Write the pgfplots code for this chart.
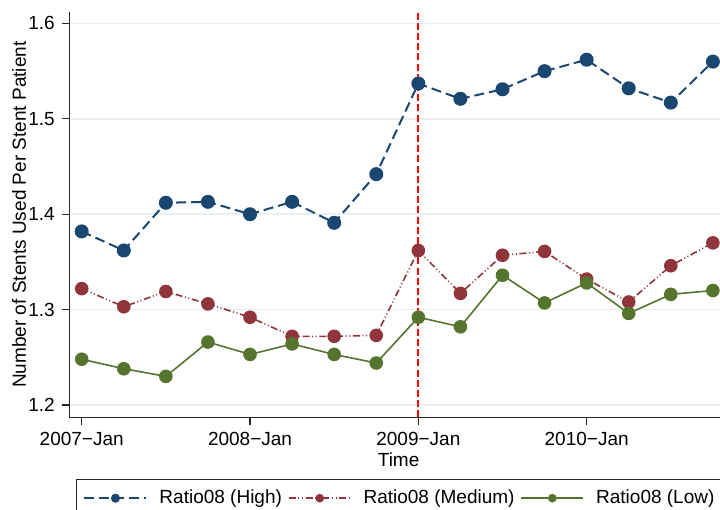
\documentclass[border=0pt]{standalone}
\usepackage{fontspec}
\setmainfont{Liberation Sans}
\usepackage{pgfplots}
\pgfplotsset{compat=1.18}
\definecolor{snavy}{RGB}{26,71,111}
\definecolor{smaroon}{RGB}{144,53,59}
\definecolor{sgreen}{RGB}{85,117,47}
\definecolor{sgrid}{RGB}{232,240,241}
\newcommand{\fs}{\fontsize{9.5pt}{11pt}\selectfont}
\begin{document}
\begin{tikzpicture}
\useasboundingbox (-34.65pt,-46.35pt) rectangle (325.35pt,208.65pt);
\clip (-34.65pt,-46.35pt) rectangle (325.35pt,208.65pt);
\begin{axis}[
  scale only axis,
  width=327.35pt, height=202.65pt,
  xmin=-0.295, xmax=15.264,
  ymin=1.1871, ymax=1.612,
  axis x line*=bottom, axis y line*=left,
  axis line style={black!85, line width=0.6pt, -},
  xtick={0,4,8,12},
  xticklabels={2007−Jan,2008−Jan,2009−Jan,2010−Jan},
  ytick={1.2,1.3,1.4,1.5,1.6},
  yticklabels={1.2,1.3,1.4,1.5,1.6},
  tick align=outside,
  major tick length=3.75pt,
  tick style={black!85, line width=0.6pt},
  ymajorgrids,
  grid style={sgrid, line width=0.75pt},
  tick label style={font=\fs},
  label style={font=\fs},
  xlabel={Time},
  ylabel={Number of Stents Used Per Stent Patient},
  xlabel style={at={(axis description cs:0.503,-0.0856)}, anchor=north, inner sep=0pt},
  ylabel style={at={(axis description cs:-0.0765,0.5)}, anchor=center, inner sep=0pt},
  clip=false,
  legend columns=3,
  legend style={
    at={(0.0102,-0.153)}, anchor=north west,
    draw=black!85, line width=0.5pt,
    font=\fs,
    inner xsep=3.5pt, inner ysep=2pt,
    nodes={inner xsep=0pt, inner ysep=3pt},
    /tikz/every odd column/.append style={column sep=6pt},
    /tikz/every even column/.append style={column sep=3pt},
  },
  legend image code/.code={
    \draw[mark repeat=2, mark phase=2, mark size=1.75pt]
      plot coordinates {(0pt,0pt) (15.5pt,0pt) (31pt,0pt)};
  },
]
\addplot[red, line width=1pt, dash pattern=on 3.5pt off 1.6pt, forget plot]
  coordinates {(8,1.1871) (8,1.612)};
\addplot[snavy, line width=1pt, dash pattern=on 5pt off 2.5pt,
  mark=*, mark size=3pt, mark options={solid, fill=snavy, draw=snavy}]
  coordinates {
  (0,1.382) (1,1.362) (2,1.412) (3,1.413) (4,1.400) (5,1.413) (6,1.391) (7,1.442)
  (8,1.537) (9,1.521) (10,1.531) (11,1.550) (12,1.562) (13,1.532) (14,1.517) (15,1.560)};
\addlegendentry{Ratio08 (High)}
\addplot[smaroon, line width=0.8pt,
  dash pattern=on 3.5pt off 1.3pt on 0.5pt off 1.3pt on 0.5pt off 1.3pt,
  mark=*, mark size=3pt, mark options={solid, fill=smaroon, draw=smaroon}]
  coordinates {
  (0,1.322) (1,1.303) (2,1.319) (3,1.306) (4,1.292) (5,1.272) (6,1.272) (7,1.273)
  (8,1.362) (9,1.317) (10,1.357) (11,1.361) (12,1.332) (13,1.308) (14,1.346) (15,1.370)};
\addlegendentry{Ratio08 (Medium)}
\addplot[sgreen, line width=0.8pt, solid,
  mark=*, mark size=3pt, mark options={solid, fill=sgreen, draw=sgreen}]
  coordinates {
  (0,1.248) (1,1.238) (2,1.230) (3,1.266) (4,1.253) (5,1.264) (6,1.253) (7,1.244)
  (8,1.292) (9,1.282) (10,1.336) (11,1.307) (12,1.328) (13,1.296) (14,1.316) (15,1.320)};
\addlegendentry{Ratio08 (Low)}
\end{axis}
\end{tikzpicture}
\end{document}
